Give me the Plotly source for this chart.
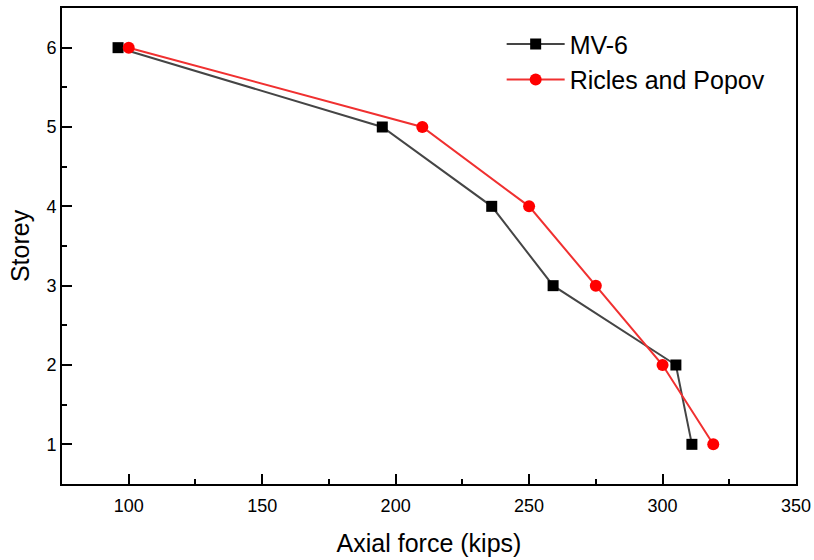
import plotly.graph_objects as go

storey = [6, 5, 4, 3, 2, 1]
mv6_force = [96, 195, 236, 259, 305, 311]
ricles_force = [100, 210, 250, 275, 300, 319]
x_ticks = [100, 150, 200, 250, 300, 350]
y_ticks = [1, 2, 3, 4, 5, 6]

FONT = "Liberation Sans, Arial"

fig = go.Figure()
fig.add_trace(go.Scatter(
    x=mv6_force, y=storey, mode="lines+markers", name="MV-6",
    line=dict(color="#454545", width=2),
    marker=dict(symbol="square", size=11, color="black"),
))
fig.add_trace(go.Scatter(
    x=ricles_force, y=storey, mode="lines+markers", name="Ricles and Popov",
    line=dict(color="#f03030", width=2),
    marker=dict(symbol="circle", size=12, color="red"),
))

axis_common = dict(
    showline=True, linecolor="black", linewidth=2, mirror=True,
    ticks="inside", ticklen=10, tickwidth=1.5, tickcolor="black",
    showgrid=False, zeroline=False, automargin=False,
    tickfont=dict(family=FONT, size=18, color="black"),
)
fig.update_xaxes(
    range=[75, 350], tickvals=x_ticks, ticklabelstandoff=4,
    minor=dict(ticks="inside", ticklen=5, tickwidth=1.5, tickcolor="black", dtick=25, tick0=75),
    title=dict(text="Axial force (kips)", font=dict(family=FONT, size=25, color="black"), standoff=20),
    **axis_common,
)
fig.update_yaxes(
    range=[0.5, 6.5], tickvals=y_ticks,
    minor=dict(ticks="inside", ticklen=5, tickwidth=1.5, tickcolor="black", dtick=0.5, tick0=0.5),
    title=dict(text="Storey", font=dict(family=FONT, size=25, color="black"), standoff=10),
    **axis_common,
)
fig.update_layout(
    width=814, height=560,
    margin=dict(l=62, r=18, t=8, b=76),
    plot_bgcolor="white", paper_bgcolor="white",
    legend=dict(
        x=0.599, y=0.972, xanchor="left", yanchor="top",
        font=dict(family=FONT, size=25, color="black"),
        bgcolor="rgba(0,0,0,0)", itemwidth=58, tracegroupgap=0,
    ),
)
fig.write_html("out.html", post_script="document.body.style.margin='0';",
               config={"displayModeBar": False})
